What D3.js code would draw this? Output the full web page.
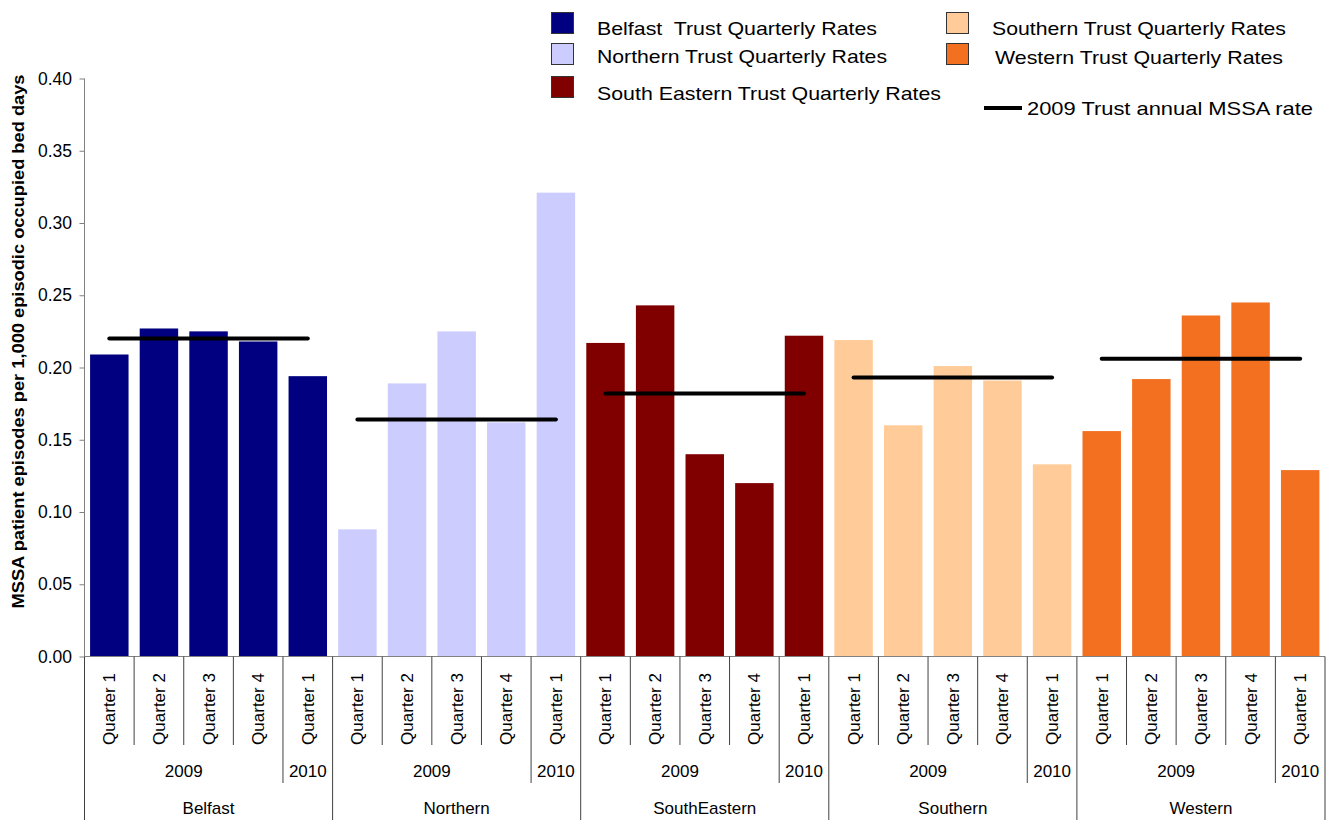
<!DOCTYPE html>
<html>
<head>
  <title>MSSA quarterly rates</title>
  <script src="https://d3js.org/d3.v7.min.js"></script>
  <style>
    body { margin: 0; background: #fff; }
    text { font-family: "Liberation Sans", Arial, sans-serif; white-space: pre; }
  </style>
</head>
<body>
  <svg width="1334" height="820" id="mainsvg"></svg>
  <script>
    // data
    const trusts = ['Belfast', 'Northern', 'SouthEastern', 'Southern', 'Western'];
    const quarters = ['Quarter 1', 'Quarter 2', 'Quarter 3', 'Quarter 4', 'Quarter 1'];
    const years = ['2009', '2009', '2009', '2009', '2010'];
    const belfastRates = [0.209, 0.227, 0.225, 0.218, 0.194];
    const northernRates = [0.088, 0.189, 0.225, 0.162, 0.321];
    const southEasternRates = [0.217, 0.243, 0.140, 0.120, 0.222];
    const southernRates = [0.219, 0.160, 0.201, 0.191, 0.133];
    const westernRates = [0.156, 0.192, 0.236, 0.245, 0.129];
    const annualRates = [0.220, 0.164, 0.182, 0.193, 0.206];
    const legendNames = ['Belfast  Trust Quarterly Rates', 'Northern Trust Quarterly Rates',
      'South Eastern Trust Quarterly Rates', 'Southern Trust Quarterly Rates', 'Western Trust Quarterly Rates'];
    const lineLegendName = '2009 Trust annual MSSA rate';
    const yTicks = [0, 0.05, 0.10, 0.15, 0.20, 0.25, 0.30, 0.35, 0.40];

    const colours = ['#000080', '#CCCCFF', '#800000', '#FFCC99', '#F37021'];
    const allRates = [belfastRates, northernRates, southEasternRates, southernRates, westernRates];

    const svg = d3.select('#mainsvg');
    const margin = { top: 78.5, left: 84.5, right: 9, bottom: 163.5 };
    const width = +svg.attr('width');
    const height = +svg.attr('height');
    const innerWidth = width - margin.left - margin.right;
    const innerHeight = height - margin.top - margin.bottom;

    // one row per bar
    const data = [];
    trusts.forEach((t, i) => {
      allRates[i].forEach((v, j) => {
        data.push({ key: t + '|' + j, trust: t, ti: i, qi: j, quarter: quarters[j], year: years[j], value: v });
      });
    });

    const xScale = d3.scaleBand()
      .domain(data.map(d => d.key))
      .range([0, innerWidth])
      .paddingInner(0.225)
      .paddingOuter(0.1125);
    const step = xScale.step();
    const yScale = d3.scaleLinear().domain([0, 0.4]).range([innerHeight, 0]);

    const g = svg.append('g').attr('transform', `translate(${margin.left}, ${margin.top})`);

    // bars
    g.selectAll('.bar').data(data).join('rect')
      .attr('class', 'bar')
      .attr('x', d => xScale(d.key))
      .attr('width', xScale.bandwidth())
      .attr('y', d => yScale(d.value))
      .attr('height', d => innerHeight - yScale(d.value))
      .attr('fill', d => colours[d.ti]);

    // annual lines
    const centre = key => xScale(key) + xScale.bandwidth() / 2;
    g.selectAll('.annual').data(annualRates).join('line')
      .attr('class', 'annual')
      .attr('x1', (d, i) => centre(trusts[i] + '|0'))
      .attr('x2', (d, i) => centre(trusts[i] + '|4'))
      .attr('y1', d => yScale(d))
      .attr('y2', d => yScale(d))
      .attr('stroke', '#000')
      .attr('stroke-width', 4)
      .attr('stroke-linecap', 'round');

    // y axis
    const yAxis = d3.axisLeft(yScale).tickValues(yTicks).tickFormat(d3.format('.2f'))
      .tickSize(5).tickPadding(7.5);
    const yAxisGroup = g.append('g').call(yAxis)
      .attr('font-size', null).attr('font-family', null);
    yAxisGroup.select('.domain').attr('stroke', '#808080').attr('d', `M0,0V${innerHeight}`);
    yAxisGroup.selectAll('.tick line').attr('stroke', '#808080');
    yAxisGroup.selectAll('.tick text').attr('font-size', '17.5px').attr('fill', '#000');

    g.append('text')
      .text('MSSA patient episodes per 1,000 episodic occupied bed days')
      .attr('transform', 'rotate(-90)')
      .attr('x', -(341.5 - margin.top))
      .attr('y', 18 - margin.left)
      .attr('dy', '0.35em')
      .attr('text-anchor', 'middle')
      .attr('font-weight', 'bold')
      .attr('font-size', '16px')
      .attr('textLength', 534)
      .attr('lengthAdjust', 'spacingAndGlyphs');

    // x axis: multi-level category labels
    const xg = g.append('g').attr('transform', `translate(0, ${innerHeight})`);
    xg.append('line').attr('x1', 0).attr('x2', innerWidth).attr('y1', 0).attr('y2', 0)
      .attr('stroke', '#808080');

    const lineColour = '#404040';
    const boundaries = d3.range(data.length + 1);
    xg.selectAll('.divider').data(boundaries).join('line')
      .attr('class', 'divider')
      .attr('x1', i => i * step)
      .attr('x2', i => i * step)
      .attr('y1', 0)
      .attr('y2', i => (i % 5 === 0 ? 164 : (i % 5 === 4 ? 126.5 : 88.5)))
      .attr('stroke', lineColour);

    xg.selectAll('.qlabel').data(data).join('text')
      .attr('class', 'qlabel')
      .text(d => d.quarter)
      .attr('transform', d => `translate(${centre(d.key)}, 52.5) rotate(-90)`)
      .attr('text-anchor', 'middle')
      .attr('dy', '0.35em')
      .attr('font-size', '17px');

    // year labels
    const yearGroups = [];
    trusts.forEach(t => {
      yearGroups.push({ label: '2009', from: t + '|0', to: t + '|3' });
      yearGroups.push({ label: '2010', from: t + '|4', to: t + '|4' });
    });
    xg.selectAll('.ylabel').data(yearGroups).join('text')
      .attr('class', 'ylabel')
      .text(d => d.label)
      .attr('x', d => (centre(d.from) + centre(d.to)) / 2)
      .attr('y', 114.5)
      .attr('dy', '0.35em')
      .attr('text-anchor', 'middle')
      .attr('font-size', '17px');

    xg.selectAll('.tlabel').data(trusts).join('text')
      .attr('class', 'tlabel')
      .text(d => d)
      .attr('x', d => (centre(d + '|0') + centre(d + '|4')) / 2)
      .attr('y', 151.5)
      .attr('dy', '0.35em')
      .attr('text-anchor', 'middle')
      .attr('font-size', '17px');

    // legend
    const legendItems = [
      { x: 551, y: 12, tx: 597, ty: 35, w: 280 },
      { x: 551, y: 43, tx: 597, ty: 63, w: 290 },
      { x: 551, y: 76, tx: 597, ty: 100, w: 344 },
      { x: 946, y: 12, tx: 992, ty: 35, w: 294 },
      { x: 946, y: 43, tx: 995, ty: 64, w: 288 }
    ];
    const narrow = '"Liberation Sans Narrow", "Arial Narrow", "Liberation Sans", sans-serif';
    const legend = svg.append('g');
    legendItems.forEach((p, i) => {
      legend.append('rect')
        .attr('x', p.x + 0.5).attr('y', p.y + 0.5)
        .attr('width', 22).attr('height', 21)
        .attr('fill', colours[i])
        .attr('stroke', '#333').attr('stroke-width', 1);
      legend.append('text')
        .text(legendNames[i])
        .attr('x', p.tx).attr('y', p.ty)
        .attr('font-size', '19px')
        .attr('font-family', narrow)
        .attr('textLength', p.w)
        .attr('lengthAdjust', 'spacingAndGlyphs');
    });
    legend.append('line')
      .attr('x1', 984).attr('x2', 1022).attr('y1', 108).attr('y2', 108)
      .attr('stroke', '#000').attr('stroke-width', 4);
    legend.append('text')
      .text(lineLegendName)
      .attr('x', 1027).attr('y', 115)
      .attr('font-size', '19px')
      .attr('font-family', narrow)
      .attr('textLength', 286)
      .attr('lengthAdjust', 'spacingAndGlyphs');
  </script>
</body>
</html>
